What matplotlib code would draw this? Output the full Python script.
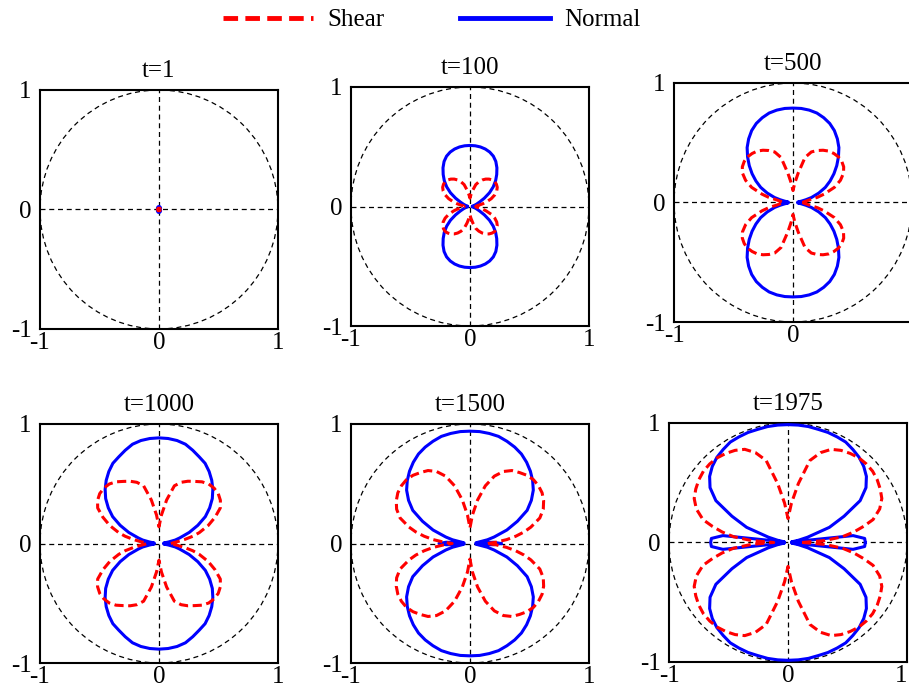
import numpy as np
import matplotlib
matplotlib.use('Agg')
import matplotlib.pyplot as plt
from matplotlib.lines import Line2D
from matplotlib.patches import Circle

plt.rcParams['font.family'] = ['Liberation Serif', 'DejaVu Serif']
plt.rcParams['axes.unicode_minus'] = False

# polar angle (deg) of the samples in the first quadrant; the other three are mirrored
theta = [0, 3, 6, 9, 12, 15, 20, 25, 30, 35, 40, 45, 50, 55, 60, 65, 70, 75, 80, 85, 90]

times = [1, 100, 500, 1000, 1500, 1975]

normal_1 = [0.012, 0.012, 0.012, 0.012, 0.012, 0.012, 0.013, 0.014, 0.015, 0.016, 0.017,
            0.018, 0.019, 0.020, 0.021, 0.022, 0.023, 0.024, 0.024, 0.025, 0.025]
normal_100 = [0.03, 0.02, 0.02, 0.02, 0.03, 0.04, 0.06, 0.09, 0.14, 0.20, 0.255,
              0.305, 0.35, 0.395, 0.435, 0.465, 0.485, 0.498, 0.506, 0.51, 0.511]
normal_500 = [0.10, 0.05, 0.04, 0.07, 0.11, 0.16, 0.23, 0.30, 0.36, 0.42, 0.48,
              0.54, 0.60, 0.65, 0.695, 0.73, 0.755, 0.775, 0.785, 0.79, 0.79]
normal_1000 = [0.13, 0.08, 0.04, 0.08, 0.14, 0.18, 0.27, 0.36, 0.45, 0.52, 0.585,
               0.64, 0.69, 0.735, 0.775, 0.80, 0.83, 0.86, 0.875, 0.882, 0.884]
normal_1500 = [0.26, 0.20, 0.05, 0.07, 0.15, 0.21, 0.33, 0.44, 0.555, 0.63, 0.695,
               0.745, 0.79, 0.83, 0.865, 0.89, 0.91, 0.928, 0.935, 0.94, 0.94]
normal_1975 = [0.65, 0.645, 0.55, 0.03, 0.09, 0.17, 0.37, 0.52, 0.70, 0.80, 0.86,
               0.90, 0.93, 0.95, 0.97, 0.975, 0.98, 0.98, 0.985, 0.986, 0.986]

shear_1 = [0.006, 0.006, 0.006, 0.007, 0.007, 0.008, 0.008, 0.009, 0.010, 0.011, 0.012,
           0.012, 0.012, 0.012, 0.011, 0.011, 0.010, 0.009, 0.008, 0.007, 0.006]
shear_100 = [0.05, 0.05, 0.06, 0.08, 0.11, 0.14, 0.19, 0.23, 0.26, 0.28, 0.29,
             0.295, 0.29, 0.28, 0.265, 0.245, 0.22, 0.19, 0.14, 0.10, 0.07]
shear_500 = [0.08, 0.09, 0.11, 0.14, 0.21, 0.27, 0.37, 0.44, 0.49, 0.52, 0.535,
             0.54, 0.535, 0.525, 0.505, 0.48, 0.45, 0.39, 0.25, 0.16, 0.10]
shear_1000 = [0.10, 0.12, 0.16, 0.22, 0.29, 0.35, 0.44, 0.52, 0.595, 0.63, 0.65,
              0.655, 0.65, 0.63, 0.60, 0.575, 0.545, 0.50, 0.37, 0.24, 0.14]
shear_1500 = [0.15, 0.22, 0.31, 0.39, 0.465, 0.53, 0.625, 0.68, 0.715, 0.74, 0.752,
              0.755, 0.745, 0.725, 0.705, 0.665, 0.60, 0.50, 0.37, 0.24, 0.13]
shear_1975 = [0.12, 0.31, 0.46, 0.56, 0.65, 0.74, 0.82, 0.87, 0.895, 0.915, 0.928,
              0.93, 0.925, 0.91, 0.89, 0.86, 0.80, 0.71, 0.50, 0.33, 0.20]

normal = [normal_1, normal_100, normal_500, normal_1000, normal_1500, normal_1975]
shear = [shear_1, shear_100, shear_500, shear_1000, shear_1500, shear_1975]

# axes boxes in figure fractions [left, bottom, width, height]
boxes = [[0.0440, 0.5239, 0.2618, 0.3459],
         [0.3861, 0.5282, 0.2618, 0.3459],
         [0.7415, 0.5340, 0.2618, 0.3459],
         [0.0440, 0.0405, 0.2618, 0.3459],
         [0.3861, 0.0405, 0.2618, 0.3459],
         [0.7360, 0.0420, 0.2618, 0.3459]]

RED = '#ff0000'
BLUE = '#0000ff'
SHEAR_DASH = (0, (3, 1.5))
GUIDE_DASH = (0, (4, 3))
FS = 18


def full_curve(q_theta, q_r):
    # mirror the first-quadrant samples into a closed curve
    q_theta = np.asarray(q_theta, float)
    q_r = np.asarray(q_r, float)
    th = np.concatenate([q_theta, 180 - q_theta[::-1], 180 + q_theta, 360 - q_theta[::-1]])
    r = np.concatenate([q_r, q_r[::-1], q_r, q_r[::-1]])
    th = np.radians(th)
    return r * np.cos(th), r * np.sin(th)


fig = plt.figure(figsize=(9.09, 6.91), dpi=100)

for i, t in enumerate(times):
    ax = fig.add_axes(boxes[i])
    ax.add_patch(Circle((0, 0), 1, fill=False, ec='black', lw=0.9, ls=GUIDE_DASH))
    ax.axhline(0, color='black', lw=0.9, ls=GUIDE_DASH)
    ax.axvline(0, color='black', lw=0.9, ls=GUIDE_DASH)

    xn, yn = full_curve(theta, normal[i])
    ax.plot(xn, yn, color=BLUE, lw=2.2, solid_joinstyle='round', zorder=3)
    xs, ys = full_curve(theta, shear[i])
    ax.plot(xs, ys, color=RED, lw=2.2, ls=SHEAR_DASH, dash_joinstyle='round', zorder=4)

    ax.set_xlim(-1, 1)
    ax.set_ylim(-1, 1)
    ax.set_xticks([-1, 0, 1])
    ax.set_yticks([-1, 0, 1])
    # the top-right panel runs past the figure edge, so its right label is off-canvas
    ax.set_xticklabels(['-1', '0', '' if i == 2 else '1'])
    ax.set_yticklabels(['-1', '0', '1'])
    ax.tick_params(length=0, labelsize=FS)
    ax.tick_params(axis='x', pad=2)
    ax.tick_params(axis='y', pad=6)
    if i == 5:
        ax.get_xticklabels()[-1].set_horizontalalignment('right')
    for s in ax.spines.values():
        s.set_linewidth(1.5)
    ax.set_title('t=%d' % t, fontsize=FS, pad=9)

handles = [Line2D([], [], color=RED, lw=3.5, ls=SHEAR_DASH),
           Line2D([], [], color=BLUE, lw=3.5)]
fig.legend(handles, ['Shear', 'Normal'], loc='center', bbox_to_anchor=(0.475, 0.971),
           ncol=2, frameon=False, fontsize=FS, handlelength=3.6,
           handletextpad=0.6, columnspacing=3.0)

fig.savefig('out.png', dpi=100)
